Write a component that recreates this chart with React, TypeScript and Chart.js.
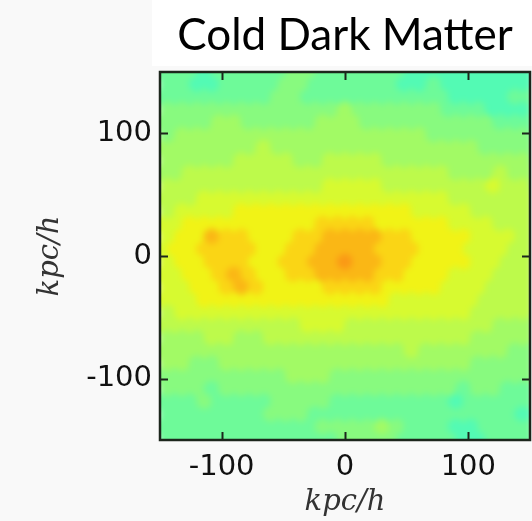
import React, { useEffect, useRef } from "react";
import { Chart, registerables } from "chart.js";

Chart.register(...registerables);

// ---- data ----
const titleText = "Cold Dark Matter";
const axisTitle = "kpc/h";
const xTickValues = [-100, 0, 100];
const yTickValues = [-100, 0, 100];
const axisMin = -150;
const axisMax = 150;
const hexSpacingX = 12; // kpc/h between neighbouring bin centres in a row

// density level (0 = lowest, 9 = highest) of each hexagonal bin,
// rows from top (y = +150) to bottom (y = -150); odd rows are shifted half a bin right
const hexRows: string[] = [
  "11101111122111111000000000",
  "11001111221111110010000000",
  "11111111221111111111000011",
  "22222222222232222221110001",
  "22223322222333222222222111",
  "23333333333333333322222221",
  "33333334333333333333332222",
  "33333444433444433333333332",
  "33444444444444444444333433",
  "44444444444555544444445443",
  "44455555555555555555444444",
  "45555666666666666555544444",
  "55666666666777766666555444",
  "56687766677888877666655544",
  "56677776677888877766655544",
  "56677766778898877666655444",
  "55667876677888877666555444",
  "55667876666777766665554444",
  "55566666666666665555554444",
  "45555555555555555555544444",
  "44444444445554444444444333",
  "33344334444444444444433333",
  "33333333333333333433333322",
  "33223333333333333333322222",
  "22222222233322222222222222",
  "22212222222222222222122111",
  "11121111222211111111011111",
  "11111112221111111111111100",
  "11111111111222232111001111",
  "11111111111122221111001111",
];

// ---- colour map (matplotlib "jet") ----
const jetR: [number, number][] = [[0, 0], [0.35, 0], [0.66, 1], [0.89, 1], [1, 0.5]];
const jetG: [number, number][] = [[0, 0], [0.125, 0], [0.375, 1], [0.64, 1], [0.91, 0], [1, 0]];
const jetB: [number, number][] = [[0, 0.5], [0.11, 1], [0.34, 1], [0.65, 0], [1, 0]];

function interp(seg: [number, number][], f: number): number {
  for (let i = 1; i < seg.length; i++) {
    if (f <= seg[i][0]) {
      const [x0, y0] = seg[i - 1];
      const [x1, y1] = seg[i];
      return y0 + ((f - x0) / (x1 - x0)) * (y1 - y0);
    }
  }
  return seg[seg.length - 1][1];
}

function levelColor(level: number): string {
  const f = 0.435 + level * 0.0355;
  const mix = (c: number) => Math.round(c * 255 * 0.9 + 205 * 0.1);
  return `rgb(${mix(interp(jetR, f))},${mix(interp(jetG, f))},${mix(interp(jetB, f))})`;
}

function buildPoints() {
  const pts: { x: number; y: number; v: number }[] = [];
  const rowStep = (axisMax - axisMin) / (hexRows.length - 1);
  hexRows.forEach((row, j) => {
    const y = axisMax - j * rowStep;
    const x0 = axisMin + (j % 2 === 1 ? hexSpacingX / 2 : 0);
    for (let i = 0; i < row.length; i++) {
      pts.push({ x: x0 + i * hexSpacingX, y, v: Number(row[i]) });
    }
  });
  return pts;
}

const hexPlugin = {
  id: "hexbin",
  beforeDatasetsDraw(chart: any) {
    const { ctx, chartArea, scales, width, height } = chart;
    const meta = chart.getDatasetMeta(0);
    const ds = chart.data.datasets[0].data as any[];
    const xs = scales.x;
    const r =
      (Math.abs(xs.getPixelForValue(hexSpacingX) - xs.getPixelForValue(0)) / Math.sqrt(3)) * 1.03;
    const off = document.createElement("canvas");
    off.width = width;
    off.height = height;
    const octx = off.getContext("2d")!;
    meta.data.forEach((el: any, i: number) => {
      const col = levelColor(ds[i].v);
      octx.beginPath();
      for (let k = 0; k < 6; k++) {
        const a = -Math.PI / 2 + (k * Math.PI) / 3;
        const px = el.x + r * Math.cos(a);
        const py = el.y + r * Math.sin(a);
        if (k === 0) octx.moveTo(px, py);
        else octx.lineTo(px, py);
      }
      octx.closePath();
      octx.fillStyle = col;
      octx.strokeStyle = col;
      octx.lineWidth = 0.8;
      octx.fill();
      octx.stroke();
    });
    ctx.save();
    ctx.beginPath();
    ctx.rect(chartArea.left, chartArea.top, chartArea.right - chartArea.left, chartArea.bottom - chartArea.top);
    ctx.clip();
    ctx.filter = "blur(3px)";
    ctx.drawImage(off, 0, 0);
    ctx.restore();
  },
  afterDatasetsDraw(chart: any) {
    const { ctx, chartArea, scales } = chart;
    const { left, right, top, bottom } = chartArea;
    ctx.save();
    ctx.strokeStyle = "#1c261c";
    ctx.lineWidth = 2;
    const tl = 8;
    xTickValues.forEach((v) => {
      const px = Math.round(scales.x.getPixelForValue(v)) + 0.5;
      ctx.beginPath();
      ctx.moveTo(px, bottom);
      ctx.lineTo(px, bottom - tl);
      ctx.moveTo(px, top);
      ctx.lineTo(px, top + tl);
      ctx.stroke();
    });
    yTickValues.forEach((v) => {
      const py = Math.round(scales.y.getPixelForValue(v)) + 0.5;
      ctx.beginPath();
      ctx.moveTo(left, py);
      ctx.lineTo(left + tl, py);
      ctx.moveTo(right, py);
      ctx.lineTo(right - tl, py);
      ctx.stroke();
    });
    ctx.lineWidth = 2.5;
    ctx.strokeRect(left, top, right - left, bottom - top);
    ctx.restore();
  },
};

const backgroundPlugin = {
  id: "bg",
  beforeDraw(chart: any) {
    const { ctx, width, height, chartArea } = chart;
    ctx.save();
    ctx.fillStyle = "#f9f9f9";
    ctx.fillRect(0, 0, width, height);
    ctx.fillStyle = "#ffffff";
    ctx.fillRect(chartArea.left - 8, 0, width - chartArea.left + 8, chartArea.top - 6);
    ctx.restore();
  },
};

function makeTicks(values: number[]) {
  return (axis: any) => {
    axis.ticks = values.map((v) => ({ value: v }));
  };
}

export default function App() {
  const canvasRef = useRef<HTMLCanvasElement | null>(null);

  useEffect(() => {
    if (!canvasRef.current) return;
    const tickFont = { family: "'DejaVu Sans', sans-serif", size: 29 };
    const titleFont = { family: "'DejaVu Serif', serif", size: 29, style: "italic" as const };
    const chart = new Chart(canvasRef.current, {
      type: "scatter",
      data: {
        datasets: [
          {
            data: buildPoints(),
            pointRadius: 0,
            pointHoverRadius: 0,
          },
        ],
      },
      options: {
        responsive: false,
        maintainAspectRatio: false,
        animation: false,
        devicePixelRatio: 1,
        events: [],
        layout: { padding: { top: 3, right: 2, left: 0, bottom: 0 } },
        plugins: {
          legend: { display: false },
          tooltip: { enabled: false },
          title: {
            display: true,
            text: titleText,
            fullSize: false,
            color: "#000",
            font: { family: "Lato, 'Liberation Sans', sans-serif", size: 44, weight: "normal" },
            padding: { top: 6, bottom: 10.2 },
          },
        },
        scales: {
          x: {
            type: "linear",
            position: "bottom",
            min: axisMin,
            max: axisMax,
            grid: { display: false, drawTicks: false },
            border: { display: false },
            afterBuildTicks: makeTicks(xTickValues),
            afterFit: (s: any) => {
              s.height = 81;
            },
            ticks: { font: tickFont, color: "#111", padding: 10, maxRotation: 0 },
            title: { display: true, text: axisTitle, font: titleFont, color: "#333", padding: { top: 0, bottom: 1 } },
          },
          y: {
            type: "linear",
            position: "left",
            min: axisMin,
            max: axisMax,
            grid: { display: false, drawTicks: false },
            border: { display: false },
            afterBuildTicks: makeTicks(yTickValues),
            afterFit: (s: any) => {
              s.width = 160;
            },
            ticks: { font: tickFont, color: "#111", padding: 8 },
            title: { display: true, text: axisTitle, font: titleFont, color: "#333", padding: { top: 33, bottom: 0 } },
          },
        },
      },
      plugins: [backgroundPlugin, hexPlugin],
    });
    return () => chart.destroy();
  }, []);

  return (
    <div style={{ position: "fixed", left: 0, top: 0, width: 532, height: 521, background: "#f9f9f9" }}>
      <canvas ref={canvasRef} width={532} height={521} style={{ display: "block", width: 532, height: 521 }} />
    </div>
  );
}
